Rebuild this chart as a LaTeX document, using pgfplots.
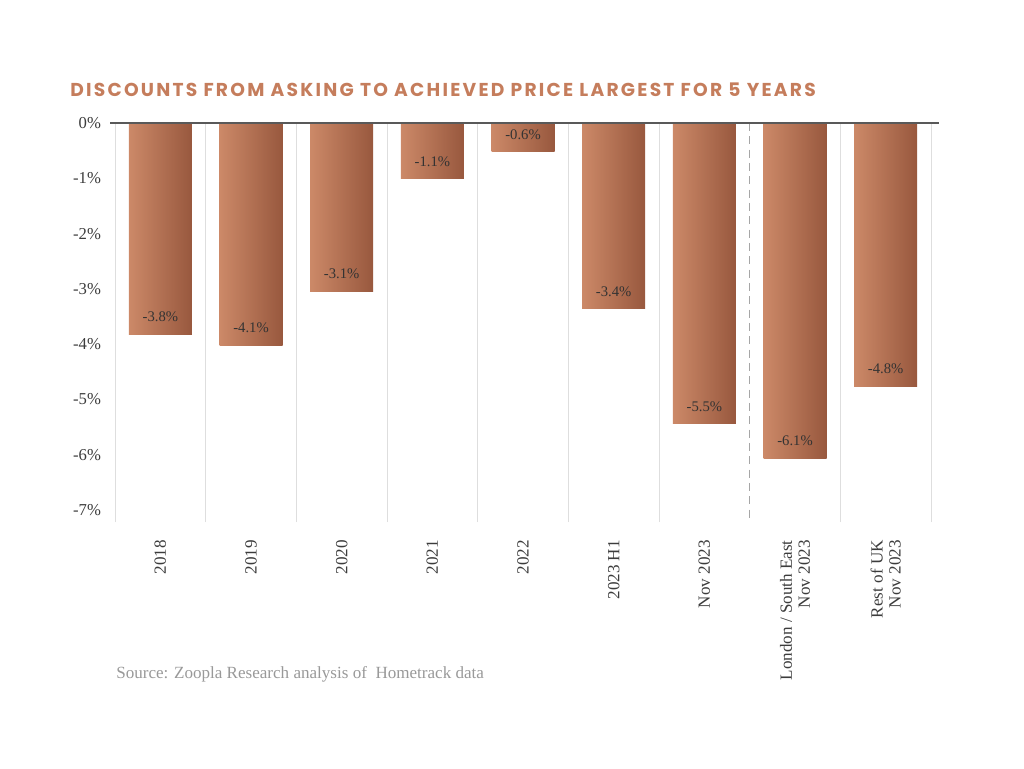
\documentclass[border=0pt]{standalone}
\usepackage{pgfplots}
\pgfplotsset{compat=1.18}
\usepackage{fontspec}
\setmainfont{Liberation Serif}
\newfontfamily\titlefont[LetterSpace=12]{Poppins}
\definecolor{titlec}{RGB}{197,125,92}
\definecolor{barL}{RGB}{204,137,104}
\definecolor{barM}{RGB}{193,116,86}
\definecolor{barR}{RGB}{152,88,62}
\definecolor{tickc}{RGB}{60,60,60}
\definecolor{gridc}{RGB}{222,222,222}
\pgfplotsset{bar/.style={draw=none, left color=barL, middle color=barM, right color=barR, bar shift=0pt}}

\begin{document}
\begin{tikzpicture}[x=0.75pt,y=0.75pt]
\path (0,0) rectangle (1024,768);
\begin{axis}[
    at={(86.25pt,184.5pt)}, anchor=south west,
    scale only axis,
    width=612pt, height=299.25pt,
    xmin=-0.5, xmax=8.5,
    ymin=-7.215, ymax=0,
    axis line style={draw=none},
    ybar, bar width=47.25pt,
    xtick={0,...,8},
    xticklabels={2018,2019,2020,2021,2022,2023 H1,Nov 2023,{London / South East\\Nov 2023},{Rest of UK\\Nov 2023}},
    xticklabel style={rotate=90, anchor=east, align=right, font=\fontsize{12.8}{13.5}\selectfont, text=tickc, inner sep=0pt, xshift=-13.5pt},
    minor xtick={-0.5,0.5,1.5,2.5,3.5,4.5,5.5,7.5,8.5},
    minor x grid style={gridc, line width=0.7pt},
    xminorgrids,
    major tick length=0pt, minor tick length=0pt,
    ytick={-7,-6,...,0},
    yticklabels={-7\%,-6\%,-5\%,-4\%,-3\%,-2\%,-1\%,0\%},
    yticklabel style={font=\fontsize{12.5}{14}\selectfont, text=tickc, anchor=east, xshift=-7pt},
    point meta=explicit symbolic,
    nodes near coords={\pgfplotspointmeta\%},
    every node near coord/.append style={anchor=center, font=\fontsize{11}{12}\selectfont, text=black!80, yshift=13pt},
    clip=false,
]
\addplot[bar] coordinates {(0,-3.82) [-3.8]};
\addplot[bar] coordinates {(1,-4.02) [-4.1]};
\addplot[bar] coordinates {(2,-3.04) [-3.1]};
\addplot[bar] coordinates {(3,-1.01) [-1.1]};
\addplot[bar] coordinates {(4,-0.52) [-0.6]};
\addplot[bar] coordinates {(5,-3.36) [-3.4]};
\addplot[bar] coordinates {(6,-5.44) [-5.5]};
\addplot[bar] coordinates {(7,-6.06) [-6.1]};
\addplot[bar] coordinates {(8,-4.76) [-4.8]};
\draw[gray!70, line width=0.8pt, dash pattern=on 6pt off 4pt] (axis cs:6.5,0) -- (axis cs:6.5,-7.215);
\draw[black!65, line width=1pt] (axis cs:-0.555,0) -- (axis cs:8.585,0);
\end{axis}
\node[anchor=west, inner sep=0pt, text=titlec] at (70,678) {\titlefont\bfseries\fontsize{14}{16}\selectfont DISCOUNTS FROM ASKING TO ACHIEVED PRICE LARGEST FOR 5 YEARS};
\node[anchor=west, inner sep=0pt, text=black!40] at (116,94) {\fontsize{12.8}{14}\selectfont Source: Zoopla Research analysis of\ \ Hometrack data};
\end{tikzpicture}
\end{document}
